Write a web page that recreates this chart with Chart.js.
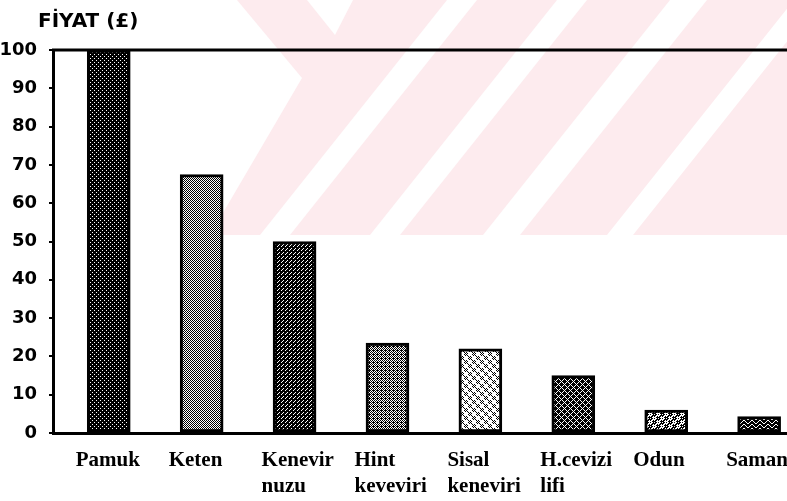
<!DOCTYPE html>
<html>
<head>
<meta charset="utf-8">
<script src="https://cdn.jsdelivr.net/npm/chart.js@4.4.1/dist/chart.umd.min.js"></script>
<style>
	body { margin: 0; background: #fff; }
	canvas { display: block; }
</style>
</head>
<body>
<canvas id="chart" width="787" height="501"></canvas>
<script>
const categories = [ 'Pamuk', 'Keten', 'Kenevir nuzu', 'Hint keveviri',
		'Sisal keneviri', 'H.cevizi lifi', 'Odun', 'Saman' ];
const prices = [ 100, 67.5, 50, 23.5, 22, 15, 6, 4.3 ];
const yTicks = [ 0, 10, 20, 30, 40, 50, 60, 70, 80, 90, 100 ];

// small tiles used as bar fills (the scan is black and white hatching)
function makePattern(size, isBlack) {
	let c = document.createElement('canvas');
	c.width = size;
	c.height = size;
	let g = c.getContext('2d');
	g.fillStyle = '#fff';
	g.fillRect(0, 0, size, size);
	g.fillStyle = '#000';
	for (let y = 0; y < size; y++) {
		for (let x = 0; x < size; x++) {
			if (isBlack(x, y)) g.fillRect(x, y, 1, 1);
		}
	}
	return g.createPattern(c, 'repeat');
}

let fills = [
	makePattern(4, (x, y) => !((x == 0 && y == 0) || (x == 2 && y == 2))),
	makePattern(2, (x, y) => (x + y) % 2 == 0),
	makePattern(4, (x, y) => !((x == 3 && y == 0) || (x == 2 && y == 1) || (x == 1 && y == 2))),
	makePattern(4, (x, y) => (x + y) % 2 == 0 || (x == 1 && y == 2)),
	makePattern(8, (x, y) => ((x < 4) == (y < 4)) && (x + y) % 2 == 0),
	makePattern(6, (x, y) => !((x + y) % 6 == 0 || (x - y + 6) % 6 == 0)),
	makePattern(8, (x, y) => ((x < 4) == (y < 4)) ? !(x % 2 == 0 && y % 2 == 0) : (x % 2 == 0 && y % 2 == 0)),
	makePattern(8, (x, y) => {
		let z = x < 4 ? x : 7 - x;
		return !(y == z || y == z + 4);
	})
];

// faint red thesis watermark behind the plot
const watermark = {
	id: 'watermark',
	beforeDraw(chart) {
		let ctx = chart.ctx;
		ctx.save();
		ctx.fillStyle = '#fff';
		ctx.fillRect(0, 0, chart.width, chart.height);
		ctx.fillStyle = '#fdebee';
		ctx.beginPath();
		ctx.moveTo(237, 0);
		ctx.lineTo(787, 0);
		ctx.lineTo(787, 235);
		ctx.lineTo(210, 235);
		ctx.lineTo(302, 78);
		ctx.closePath();
		ctx.fill();
		ctx.fillStyle = '#fff';
		[ [447, 477], [557, 587], [670, 707], [794, 820] ].forEach(g => {
			ctx.beginPath();
			ctx.moveTo(g[0], 0);
			ctx.lineTo(g[1], 0);
			ctx.lineTo(g[1] - 187, 235);
			ctx.lineTo(g[0] - 187, 235);
			ctx.closePath();
			ctx.fill();
		});
		ctx.beginPath();
		ctx.moveTo(307, 0);
		ctx.lineTo(353, 0);
		ctx.lineTo(335, 35);
		ctx.closePath();
		ctx.fill();
		ctx.restore();
	}
};

const frame = {
	id: 'frame',
	afterDraw(chart) {
		let ctx = chart.ctx;
		let area = chart.chartArea;
		ctx.save();
		ctx.strokeStyle = '#000';
		ctx.lineWidth = 3;
		ctx.beginPath();
		ctx.moveTo(area.left - 1, area.top);
		ctx.lineTo(chart.width, area.top);
		ctx.stroke();
		ctx.fillStyle = '#000';
		ctx.font = 'bold 20px "DejaVu Sans"';
		ctx.textBaseline = 'alphabetic';
		ctx.fillText('FİYAT (£)', 38, 27);
		ctx.restore();
	}
};

let ctx = document.getElementById('chart').getContext('2d');
let priceChart = new Chart(ctx, {
	type : 'bar',
	data : {
		datasets : [ {
			data : categories.map((c, i) => ({ x : i, y : prices[i] })),
			backgroundColor : fills,
			borderColor : '#000',
			borderWidth : 3,
			borderSkipped : false,
			barThickness : 43
		} ]
	},
	options : {
		responsive : false,
		animation : false,
		events : [],
		layout : {
			padding : { top : 50, left : 0, right : 0, bottom : 0 }
		},
		plugins : {
			legend : { display : false },
			tooltip : { enabled : false }
		},
		scales : {
			x : {
				type : 'linear',
				offset : false,
				min : -0.6,
				max : 7.3,
				afterBuildTicks : axis => {
					axis.ticks = categories.map((c, i) => ({ value : i }));
				},
				afterFit : axis => {
					axis.height = 68;
					axis.paddingLeft = 0;
					axis.paddingRight = 0;
				},
				grid : { display : false, drawTicks : false },
				border : { display : true, color : '#000', width : 3 },
				ticks : {
					autoSkip : false,
					maxRotation : 0,
					align : 'start',
					labelOffset : -33,
					padding : 14,
					color : '#000',
					font : { family : 'Liberation Serif', size : 21, weight : 'bold', lineHeight : 1.27 },
					callback : value => categories[value] ? categories[value].split(' ') : ''
				}
			},
			y : {
				min : 0,
				max : 100,
				afterBuildTicks : axis => {
					axis.ticks = yTicks.map(v => ({ value : v }));
				},
				afterFit : axis => {
					axis.width = 53;
				},
				grid : {
					drawOnChartArea : false,
					drawTicks : true,
					tickLength : 4,
					tickColor : '#000',
					lineWidth : 2
				},
				border : { display : true, color : '#000', width : 3 },
				ticks : {
					padding : 12,
					color : '#000',
					font : { family : 'DejaVu Sans', size : 18, weight : 'bold' }
				}
			}
		}
	},
	plugins : [ watermark, frame ]
});
</script>
</body>
</html>
